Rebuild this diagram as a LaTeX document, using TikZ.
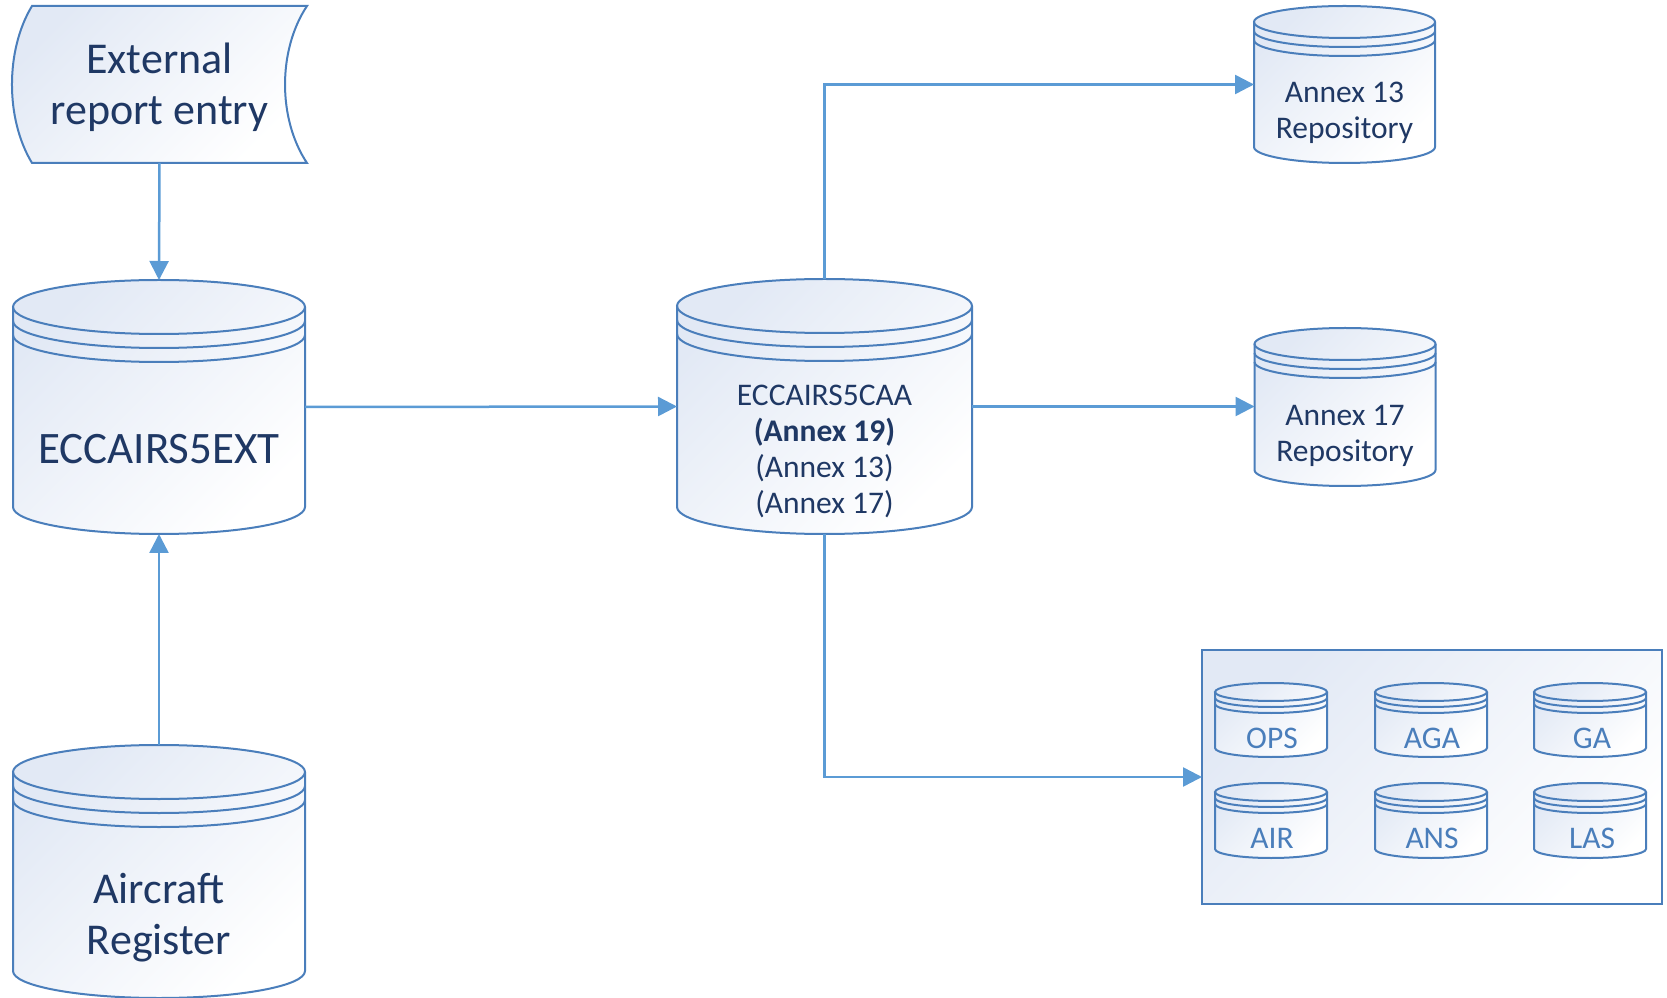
\documentclass[tikz,border=0pt]{standalone}
\usepackage{fontspec}
\setmainfont{Carlito}
\usetikzlibrary{arrows.meta,calc}
\definecolor{outl}{HTML}{4A7EBB}
\definecolor{arr}{HTML}{5B9BD5}
\definecolor{navy}{HTML}{1F3864}
\definecolor{smtext}{HTML}{4A7EBB}
\definecolor{shadetop}{HTML}{E2E9F5}
\tikzset{
  dbfill/.style={top color=shadetop, bottom color=white, shading angle=45},
  dbline/.style={draw=outl, line width=2pt},
  conn/.style={draw=arr, line width=2.5pt, -{Triangle[length=19pt,width=19pt]}},
  bigtext/.style={text=navy, font=\fontsize{44}{51}\selectfont, align=center, inner sep=0pt},
  midtext/.style={text=navy, font=\fontsize{31.5}{36}\selectfont, align=center, inner sep=0pt},
  smalltext/.style={text=smtext, font=\fontsize{31.5}{36}\selectfont, align=center, inner sep=0pt},
  shapebox/.style={inner sep=0pt, outer sep=0pt}
}
% #1 name, #2 cx, #3 top (image y), #4 bottom (image y), #5 half width, #6 ry, #7 ring step
\newcommand\dbcyl[7]{%
  \pgfmathsetmacro\cyT{997-#3-#6}%
  \pgfmathsetmacro\cyB{997-#4+#6}%
  \pgfmathsetmacro\cyL{#2-#5}%
  \pgfmathsetmacro\cyR{#2+#5}%
  \pgfmathsetmacro\cyRa{\cyT-#7}%
  \pgfmathsetmacro\cyRb{\cyT-2*#7}%
  \pgfmathsetmacro\cyM{997-(#3+#4)/2}%
  \pgfmathsetmacro\cyW{2*#5}%
  \pgfmathsetmacro\cyH{#4-#3}%
  \path[dbfill] (\cyL,\cyT) -- (\cyL,\cyB) arc[start angle=180,end angle=360,x radius=#5pt,y radius=#6pt] -- (\cyR,\cyT) arc[start angle=0,end angle=180,x radius=#5pt,y radius=#6pt] -- cycle;
  \draw[dbline] (\cyL,\cyT) -- (\cyL,\cyB) arc[start angle=180,end angle=360,x radius=#5pt,y radius=#6pt] -- (\cyR,\cyT);
  \draw[dbline] (#2,\cyT) ellipse[x radius=#5pt,y radius=#6pt];
  \draw[dbline] (\cyL,\cyRa) arc[start angle=180,end angle=360,x radius=#5pt,y radius=#6pt];
  \draw[dbline] (\cyL,\cyRb) arc[start angle=180,end angle=360,x radius=#5pt,y radius=#6pt];
  \node[shapebox, minimum width=\cyW pt, minimum height=\cyH pt] (#1) at (#2,\cyM) {};
}
\begin{document}
\begin{tikzpicture}[x=1pt,y=1pt]
\useasboundingbox (0,0) rectangle (1667,997);

% External report entry (stored data shape)
\path[dbfill] (32,991) -- (307,991) .. controls (277.7,947) and (277.7,878) .. (307,834) -- (32,834) .. controls (5.3,878) and (5.3,947) .. (32,991) -- cycle;
\draw[dbline] (32,991) -- (307,991) .. controls (277.7,947) and (277.7,878) .. (307,834) -- (32,834) .. controls (5.3,878) and (5.3,947) .. (32,991) -- cycle;
\node[shapebox, minimum width=295pt, minimum height=157pt] (entry) at (159.5,912.5) {};
\node[bigtext] (entryT) at (159.5,909.5) {External\\report entry};

% Big cylinders
\dbcyl{ext}{159}{280}{534}{146}{27}{14}
\node[bigtext, font=\fontsize{45}{51}\selectfont] (extT) at (159,548) {ECCAIRS5EXT};

\dbcyl{air}{159}{745}{998}{146}{27}{14}
\node[bigtext] (airT) at (159,79) {Aircraft\\Register};

\dbcyl{caa}{824.5}{279}{534}{147.5}{27}{14}
\node[midtext] (caaT) at (824.5,545.5) {ECCAIRS5CAA\\\textbf{(Annex 19)}\\(Annex 13)\\(Annex 17)};

% Repositories
\dbcyl{a13}{1344.5}{6}{163}{90.5}{16}{9}
\node[midtext] (a13T) at (1344.5,884.5) {Annex 13\\Repository};

\dbcyl{a17}{1345}{328}{486}{90.5}{16}{9}
\node[midtext] (a17T) at (1345,561.5) {Annex 17\\Repository};

% Group box
\draw[dbline, dbfill] (1202,347) rectangle (1662,93);
\node[shapebox, minimum width=460pt, minimum height=254pt] (grp) at (1432,220) {};

\dbcyl{ops}{1271}{683}{757}{56}{9}{6}
\node[smalltext] (opsT) at (1272,259) {OPS};
\dbcyl{aga}{1431}{683}{757}{56}{9}{6}
\node[smalltext] (agaT) at (1432,259) {AGA};
\dbcyl{ga}{1590}{683}{757}{56}{9}{6}
\node[smalltext] (gaT) at (1592,259) {GA};
\dbcyl{airs}{1271}{783}{858}{56}{9}{6}
\node[smalltext] (airsT) at (1272,159) {AIR};
\dbcyl{ans}{1431}{783}{858}{56}{9}{6}
\node[smalltext] (ansT) at (1432,159) {ANS};
\dbcyl{las}{1590}{783}{858}{56}{9}{6}
\node[smalltext] (lasT) at (1592,159) {LAS};

% Connectors
\draw[conn] (entry.south) -- (ext.north);
\draw[conn] (air.north) -- (ext.south);
\draw[conn] (ext.east) -- (caa.west);
\draw[conn] (caa.north) |- (a13.west);
\draw[conn] (caa.east) -- (caa.east -| a17.west);
\draw[conn] (caa.south) |- (grp.west);
\end{tikzpicture}
\end{document}
